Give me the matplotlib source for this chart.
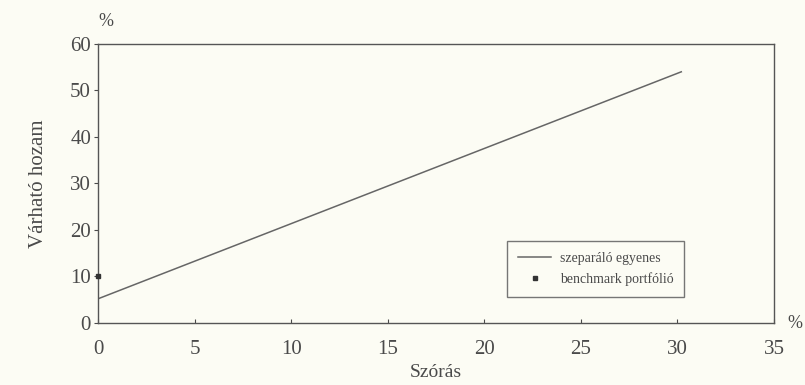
import matplotlib
matplotlib.use("Agg")
import matplotlib.pyplot as plt

# Data
line_x = [0, 30.2]
line_y = [5.2, 54]
bench_x = [0]
bench_y = [10]
xticks = [0, 5, 10, 15, 20, 25, 30, 35]
yticks = [0, 10, 20, 30, 40, 50, 60]
line_label = "szeparáló egyenes"
bench_label = "benchmark portfólió"

bg = "#fcfcf4"
ink = "#4a4a4a"
plt.rcParams['font.family'] = ['Liberation Serif', 'DejaVu Serif']

fig = plt.figure(figsize=(8.05, 3.85), dpi=100, facecolor=bg)
ax = fig.add_axes([0.1217, 0.161, 0.8398, 0.725])
ax.set_facecolor(bg)

ax.plot(line_x, line_y, color="#666666", lw=1.1, label=line_label)
ax.plot(bench_x, bench_y, ls="none", marker="s", ms=3, color="#333333",
        label=bench_label, clip_on=False, zorder=5)

ax.set_xlim(0, 35)
ax.set_ylim(0, 60)
ax.set_xticks(xticks)
ax.set_yticks(yticks)
ax.tick_params(axis='both', colors=ink, labelsize=15, length=3, width=0.8)
ax.tick_params(axis='x', direction='in', pad=12)
ax.tick_params(axis='y', direction='out', pad=2)
for s in ax.spines.values():
    s.set_color("#555555")
    s.set_linewidth(1.0)

ax.set_xlabel("Szórás", fontsize=14, color=ink, labelpad=4)
ax.set_ylabel("Várható hozam", fontsize=15, color=ink, labelpad=16)

ax.text(0.0, 1.05, "%", transform=ax.transAxes, fontsize=13, color=ink,
        ha='left', va='bottom')
ax.text(1.02, 0.0, "%", transform=ax.transAxes, fontsize=13, color=ink,
        ha='left', va='center')

leg = ax.legend(loc='lower left', bbox_to_anchor=(0.605, 0.093), fontsize=10,
                frameon=True, fancybox=False, edgecolor="#555555",
                facecolor=bg, handlelength=2.4, borderpad=0.8,
                borderaxespad=0, labelspacing=0.5, handletextpad=0.6,
                markerscale=1.0)
leg.get_frame().set_linewidth(1.0)
for t in leg.get_texts():
    t.set_color(ink)

fig.savefig("out.png", dpi=100, facecolor=bg)
